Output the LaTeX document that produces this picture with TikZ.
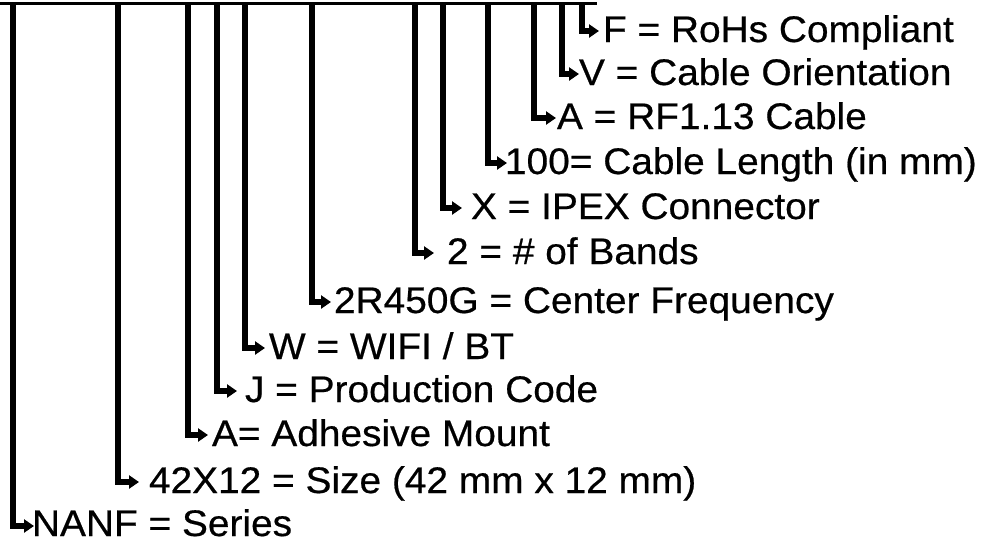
\documentclass[tikz,border=0pt]{standalone}
\usepackage{fontspec}
\setmainfont[FakeBold=0.5]{Liberation Sans}
\usetikzlibrary{arrows.meta}
\tikzset{
  lbl/.style={anchor=base west, inner sep=0pt, outer sep=0pt, font=\fontsize{37}{40}\selectfont},
  conn/.style={line width=5.6pt, line join=miter, -{Triangle[length=10pt,width=13pt]}},
  topbar/.style={line width=3pt}
}
\newcommand{\hsq}[1]{\scalebox{1.05}[1]{#1}}
\begin{document}
\begin{tikzpicture}[x=1pt,y=-1pt]
\useasboundingbox (0,0) rectangle (986,542);
% top bar
\coordinate (bl) at (0,3);
\coordinate (br) at (597,3);
\draw[topbar] (bl) -- (br);
% labels
\node[lbl] (L1)  at (603,42)  {\hsq{F = RoHs Compliant}};
\node[lbl] (L2)  at (579,85)  {\hsq{V = Cable Orientation}};
\node[lbl] (L3)  at (557,129) {\hsq{A = RF1.13 Cable}};
\node[lbl] (L4)  at (505,174) {\hsq{100= Cable Length (in mm)}};
\node[lbl] (L5)  at (471,219) {\hsq{X = IPEX Connector}};
\node[lbl] (L6)  at (447,264) {\hsq{2 = \# of Bands}};
\node[lbl] (L7)  at (334,313) {\hsq{2R450G = Center Frequency}};
\node[lbl] (L8)  at (269,359) {\hsq{W = WIFI / BT}};
\node[lbl] (L9)  at (245,402) {\hsq{J = Production Code}};
\node[lbl] (L10) at (212,446) {\hsq{A= Adhesive Mount}};
\node[lbl] (L11) at (149,493) {\hsq{42X12 = Size (42 mm x 12 mm)}};
\node[lbl] (L12) at (32,536)  {\hsq{NANF = Series}};
% line tops and arrow tips
\coordinate (t1)  at (582,3);  \coordinate (a1)  at (599,31);
\coordinate (t2)  at (562,3);  \coordinate (a2)  at (579,74);
\coordinate (t3)  at (534,3);  \coordinate (a3)  at (556,118);
\coordinate (t4)  at (488,3);  \coordinate (a4)  at (507,163);
\coordinate (t5)  at (443,3);  \coordinate (a5)  at (462,208);
\coordinate (t6)  at (415,3);  \coordinate (a6)  at (434,253);
\coordinate (t7)  at (312,3);  \coordinate (a7)  at (331,302);
\coordinate (t8)  at (245,3);  \coordinate (a8)  at (265,348);
\coordinate (t9)  at (217,3);  \coordinate (a9)  at (237,391);
\coordinate (t10) at (188,3);  \coordinate (a10) at (208,435);
\coordinate (t11) at (118,3);  \coordinate (a11) at (139,482);
\coordinate (t12) at (13,3);   \coordinate (a12) at (34,526);
\foreach \i in {1,...,12}{
  \draw[conn] (t\i) |- (a\i);
}
\end{tikzpicture}
\end{document}
